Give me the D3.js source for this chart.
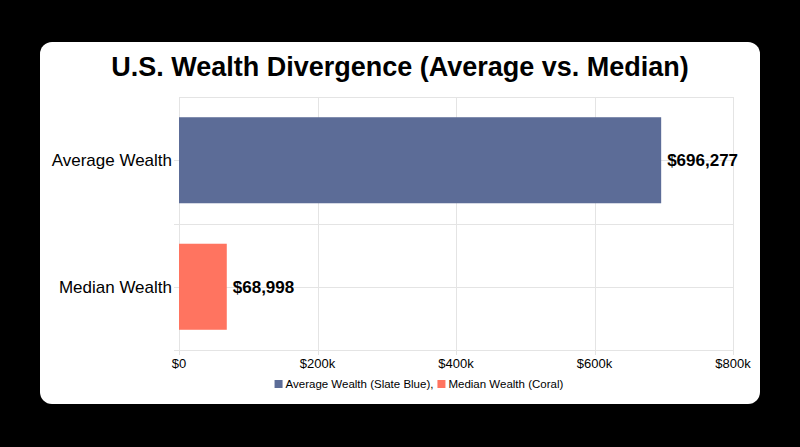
<!DOCTYPE html>
<html>
<head>
<meta charset="utf-8">
<script src="https://cdn.jsdelivr.net/npm/d3@7"></script>
<style>
  html, body { margin: 0; padding: 0; background: #000; }
  svg { display: block; font-family: "Liberation Sans", Arial, Helvetica, sans-serif; }
</style>
</head>
<body>
<svg id="chart"></svg>
<script>
const categories = ["Average Wealth", "Median Wealth"];
const values = [696277, 68998];
const seriesNames = ["Average Wealth (Slate Blue),", "Median Wealth (Coral)"];
const colors = ["#5c6c97", "#ff7460"];
const xTicks = [0, 200000, 400000, 600000, 800000];
const xTickLabels = ["$0", "$200k", "$400k", "$600k", "$800k"];

const width = 800;
const height = 447;

const svg = d3.select("#chart").attr("width", width).attr("height", height);

// card
svg.append("rect")
  .attr("x", 40).attr("y", 42)
  .attr("width", 720).attr("height", 362)
  .attr("rx", 12).attr("ry", 12)
  .attr("fill", "#fff");

svg.append("text")
  .attr("x", 400).attr("y", 76)
  .attr("text-anchor", "middle")
  .attr("font-size", 27)
  .attr("font-weight", "bold")
  .attr("fill", "#000")
  .text("U.S. Wealth Divergence (Average vs. Median)");

const plot = { left: 179, right: 733, top: 97, bottom: 350 };

const x = d3.scaleLinear().domain([0, 800000]).range([plot.left, plot.right]);
const y = d3.scaleBand().domain(categories).range([plot.top, plot.bottom]).padding(0);

const grid = svg.append("g").attr("stroke", "#e4e4e4").attr("stroke-width", 1);

// vertical grid lines (with small ticks below the axis)
grid.selectAll(".vgrid")
  .data(xTicks)
  .enter()
  .append("line")
  .attr("x1", (d) => Math.round(x(d)) + 0.5)
  .attr("x2", (d) => Math.round(x(d)) + 0.5)
  .attr("y1", plot.top)
  .attr("y2", plot.bottom + 5);

// horizontal grid lines at band edges and centres
const hLines = [];
categories.forEach((c) => {
  hLines.push({ y: y(c), tick: y(c) !== plot.top });
  hLines.push({ y: y(c) + y.bandwidth() / 2, tick: true });
});
hLines.push({ y: plot.bottom, tick: true });

grid.selectAll(".hgrid")
  .data(hLines)
  .enter()
  .append("line")
  .attr("x1", (d) => (d.tick ? plot.left - 5 : plot.left))
  .attr("x2", plot.right)
  .attr("y1", (d) => Math.round(d.y) + 0.5)
  .attr("y2", (d) => Math.round(d.y) + 0.5);

// bars
const barH = y.bandwidth() * 0.68;
svg.selectAll(".bar")
  .data(categories)
  .enter()
  .append("rect")
  .attr("class", "bar")
  .attr("x", x(0))
  .attr("y", (d) => y(d) + (y.bandwidth() - barH) / 2)
  .attr("width", (d, i) => x(values[i]) - x(0))
  .attr("height", barH)
  .attr("fill", (d, i) => colors[i]);

// value labels
svg.selectAll(".val")
  .data(categories)
  .enter()
  .append("text")
  .attr("x", (d, i) => x(values[i]) + 6)
  .attr("y", (d) => y(d) + y.bandwidth() / 2 + 6)
  .attr("font-size", 17)
  .attr("font-weight", "bold")
  .attr("fill", "#000")
  .text((d, i) => "$" + d3.format(",")(values[i]));

// category labels
svg.selectAll(".cat")
  .data(categories)
  .enter()
  .append("text")
  .attr("x", plot.left - 7)
  .attr("y", (d) => y(d) + y.bandwidth() / 2 + 6)
  .attr("text-anchor", "end")
  .attr("font-size", 17)
  .attr("fill", "#000")
  .text((d) => d);

// x tick labels
svg.selectAll(".xt")
  .data(xTicks)
  .enter()
  .append("text")
  .attr("x", (d) => x(d))
  .attr("y", 368)
  .attr("text-anchor", "middle")
  .attr("font-size", 13)
  .attr("fill", "#000")
  .text((d, i) => xTickLabels[i]);

// legend
const legend = svg.append("g").attr("font-size", 11.5);
const items = legend.selectAll(".item")
  .data(seriesNames)
  .enter()
  .append("g");
items.append("rect")
  .attr("width", 8).attr("height", 8)
  .attr("y", 380)
  .attr("fill", (d, i) => colors[i]);
items.append("text")
  .attr("x", 11)
  .attr("y", 388)
  .attr("fill", "#000")
  .text((d) => d);

const widths = [];
items.each(function () {
  widths.push(this.getBBox().width);
});
const totalW = d3.sum(widths) + 4 * (widths.length - 1);
let lx = 419 - totalW / 2;
items.attr("transform", (d, i) => {
  const t = `translate(${lx},0)`;
  lx += widths[i] + 4;
  return t;
});
</script>
</body>
</html>
